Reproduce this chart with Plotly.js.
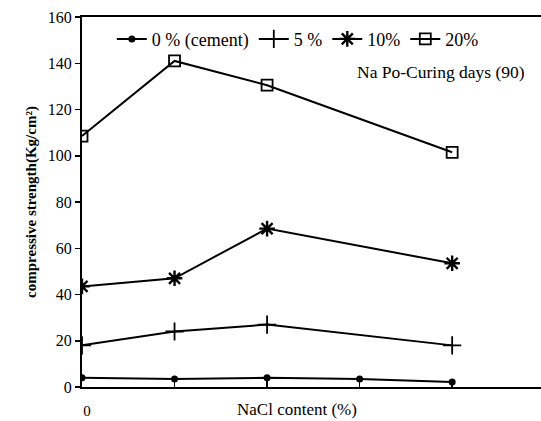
<!DOCTYPE html>
<html><head><meta charset="utf-8">
<script src="https://cdn.plot.ly/plotly-3.0.1.min.js"></script>
<style>html,body{margin:0;padding:0;background:#fff;overflow:hidden}</style>
</head><body><div id="chart" style="width:541px;height:421px"></div>
<script>
const nacl = [0, 1, 2, 3, 4];
const xTickText = ['0', '', '', '', ''];
const cement0 = [4, 3.5, 4, 3.5, 2.2];
const pct5 = [18, 24, 27, null, 18];
const pct10 = [43.5, 47, 68.5, null, 53.5];
const pct20 = [108.5, 141, 130.5, null, 101.5];
const names = ['0 % (cement)', '5 %', '10%', '20%'];
const F = '"Liberation Serif", "DejaVu Serif", serif';
const line = {color: '#000', width: 2};
const traces = [
  {x: nacl, y: cement0, name: names[0], mode: 'lines+markers', line: line,
   marker: {symbol: 'circle', size: 7, color: '#000'}},
  {x: nacl, y: pct5, name: names[1], mode: 'lines+markers', line: line, connectgaps: true,
   marker: {symbol: 'cross-thin', size: 13, color: '#000', line: {color: '#000', width: 1.8}}},
  {x: nacl, y: pct10, name: names[2], mode: 'lines+markers', line: line, connectgaps: true,
   marker: {symbol: 'asterisk', size: 13, color: '#000', line: {color: '#000', width: 2.4}}},
  {x: nacl, y: pct20, name: names[3], mode: 'lines+markers', line: line, connectgaps: true,
   marker: {symbol: 'square-open', size: 11, color: '#000', line: {color: '#000', width: 1.8}}}
];
const layout = {
  width: 541, height: 421,
  margin: {l: 82, r: 0, t: 17, b: 34, autoexpand: false},
  paper_bgcolor: '#fff', plot_bgcolor: '#fff',
  font: {family: F, size: 16, color: '#000'},
  showlegend: true,
  legend: {orientation: 'h', x: 0.065, y: 0.99, xanchor: 'left', yanchor: 'top',
           font: {family: F, size: 18, color: '#000'}, itemwidth: 30, tracegroupgap: 0,
           bgcolor: 'rgba(0,0,0,0)'},
  xaxis: {range: [0, 4.96], tickvals: nacl, ticktext: xTickText, ticks: 'inside', ticklen: 8,
          tickcolor: '#000', tickwidth: 1.5, showgrid: false, zeroline: false,
          showline: true, linecolor: '#000', linewidth: 2, mirror: true,
          tickfont: {family: F, size: 15}, ticklabelstandoff: 9, ticklabelshift: 5,
          fixedrange: true},
  yaxis: {range: [0, 160], tickvals: [0,20,40,60,80,100,120,140,160], ticks: 'outside', ticklen: 5,
          tickcolor: '#000', tickwidth: 1.5, showgrid: false, zeroline: false,
          showline: true, linecolor: '#000', linewidth: 2,
          tickfont: {family: F, size: 16},
          title: {text: 'compressive strength(Kg/cm²)', font: {family: F, size: 15, weight: 'bold'}, standoff: 8}},
  annotations: [
    {text: 'Na Po-Curing days (90)', xref: 'paper', yref: 'paper', x: 0.969, y: 0.851,
     xanchor: 'right', yanchor: 'middle', showarrow: false, font: {family: F, size: 17.5}},
    {text: 'NaCl content (%)', xref: 'x', yref: 'paper', x: 2.32, y: -0.062,
     xanchor: 'center', yanchor: 'middle', showarrow: false, font: {family: F, size: 17}}
  ]
};
Plotly.newPlot('chart', traces, layout, {displayModeBar: false, staticPlot: true});
</script></body></html>
